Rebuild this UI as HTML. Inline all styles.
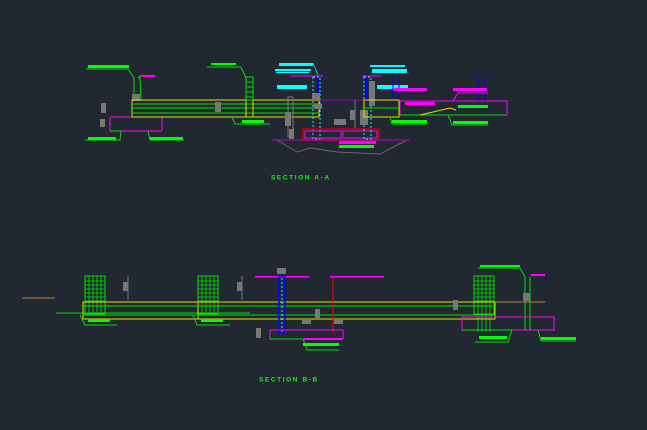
<!DOCTYPE html>
<html><head><meta charset="utf-8"><style>
html,body{margin:0;padding:0;background:#222831;}
svg{display:block}
text{font-family:"Liberation Sans",sans-serif;font-weight:bold;fill:#00ff00;font-size:6.5px;letter-spacing:1.6px}
</style></head><body>
<svg width="647" height="430" viewBox="0 0 647 430" xmlns="http://www.w3.org/2000/svg">
<rect width="647" height="430" fill="#222831"/>
<g fill="none" stroke-width="1">
<rect x="88" y="65" width="41" height="3" fill="#00ff00" stroke="none"/>
<polyline points="86,69 128,69 134,78 134,100" stroke="#00e000"/>
<polyline points="138,78 140,76 141,100" stroke="#00e000"/>
<rect x="141" y="75" width="14" height="2" fill="#ff00ff" stroke="none"/>
<rect x="132" y="94" width="8" height="7" fill="#777" stroke="none"/>
<rect x="101" y="103" width="5" height="10" fill="#777" stroke="none"/>
<rect x="100" y="119" width="5" height="8" fill="#777" stroke="none"/>
<rect x="110" y="117" width="52" height="14" stroke="#ff00ff" rx="2"/>
<polyline points="110,131 121,131 120,140 85,140" stroke="#00e000"/>
<rect x="88" y="137" width="28" height="3" fill="#00ff00" stroke="none"/>
<polyline points="148,131 150,140 184,140" stroke="#00e000"/>
<rect x="150" y="137" width="33" height="3" fill="#00ff00" stroke="none"/>
<rect x="132" y="100" width="187" height="17" stroke="#e0e000"/>
<line x1="132" y1="104" x2="319" y2="104" stroke="#00e000"/>
<line x1="132" y1="108" x2="319" y2="108" stroke="#00e000"/>
<line x1="132" y1="113" x2="319" y2="113" stroke="#00e000"/>
<rect x="246" y="100" width="7" height="17" stroke="#e0e000"/>
<rect x="211" y="63" width="25" height="2" fill="#00ff00" stroke="none"/>
<polyline points="207,67 241,67 246,78" stroke="#00e000"/>
<rect x="246" y="77" width="7" height="23" stroke="#00e000"/>
<line x1="246" y1="82" x2="253" y2="82" stroke="#00e000"/><line x1="246" y1="87" x2="253" y2="87" stroke="#00e000"/><line x1="246" y1="92" x2="253" y2="92" stroke="#00e000"/><line x1="246" y1="97" x2="253" y2="97" stroke="#00e000"/>
<rect x="215" y="102" width="6" height="10" fill="#777" stroke="none"/>
<polyline points="232,117 235,124 270,124" stroke="#00e000"/>
<rect x="242" y="120" width="22" height="3" fill="#00ff00" stroke="none"/>
<rect x="279" y="63" width="34" height="3" fill="#00ffff" stroke="none"/>
<rect x="275" y="69" width="36" height="2" fill="#00ffff" stroke="none"/>
<rect x="276" y="72" width="33" height="1" fill="#00ffff" stroke="none"/>
<rect x="277" y="85" width="30" height="4" fill="#00ffff" stroke="none"/>
<polyline points="313,63 318,75" stroke="#00cccc"/>
<line x1="290" y1="76" x2="323" y2="76" stroke="#ff00ff"/>
<rect x="313" y="77" width="7" height="62" stroke="#00ffff" stroke-dasharray="2,2"/>
<line x1="318" y1="78" x2="318" y2="100" stroke="#0000ff" stroke-width="2"/>
<rect x="312" y="93" width="8" height="7" fill="#777" stroke="none"/>
<rect x="314" y="104" width="8" height="5" fill="#777" stroke="none"/>
<line x1="320" y1="100" x2="364" y2="100" stroke="#a000c0"/>
<rect x="288" y="97" width="5" height="40" stroke="#777"/>
<rect x="285" y="112" width="6" height="14" fill="#777" stroke="none"/>
<rect x="289" y="129" width="5" height="10" fill="#777" stroke="none"/>
<rect x="334" y="119" width="12" height="6" fill="#777" stroke="none"/>
<rect x="350" y="110" width="5" height="10" fill="#777" stroke="none"/>
<line x1="355" y1="100" x2="355" y2="130" stroke="#777"/>
<rect x="303" y="129" width="76" height="11" stroke="#c00000" stroke-width="1.5"/>
<rect x="305" y="131" width="36" height="7" stroke="#ff00ff"/>
<rect x="343" y="131" width="34" height="7" stroke="#ff00ff"/>
<line x1="272" y1="140" x2="410" y2="140" stroke="#c000c0"/>
<polyline points="277,140 297,152 310,148 337,152 380,154 405,141" stroke="#666"/>
<rect x="339" y="141" width="37" height="3" fill="#ff00ff" stroke="none"/>
<rect x="339" y="145" width="35" height="3" fill="#00ff00" stroke="none"/>
<rect x="370" y="65" width="35" height="2" fill="#00ffff" stroke="none"/>
<rect x="372" y="69" width="35" height="4" fill="#00ffff" stroke="none"/>
<rect x="377" y="85" width="31" height="4" fill="#00ffff" stroke="none"/>
<line x1="362" y1="76" x2="381" y2="76" stroke="#ff00ff"/>
<rect x="364" y="77" width="7" height="62" stroke="#00ffff" stroke-dasharray="2,2"/>
<line x1="366" y1="78" x2="366" y2="100" stroke="#0000ff" stroke-width="2"/>
<rect x="369" y="81" width="6" height="25" fill="#777" stroke="none"/>
<rect x="360" y="110" width="8" height="15" fill="#777" stroke="none"/>
<line x1="393" y1="77" x2="393" y2="101" stroke="#0000ff"/>
<line x1="399" y1="77" x2="399" y2="101" stroke="#0000ff"/>
<rect x="393" y="88" width="34" height="3" fill="#ff00ff" stroke="none"/>
<rect x="364" y="100" width="35" height="17" stroke="#e0e000"/>
<line x1="364" y1="108" x2="399" y2="108" stroke="#00e000"/>
<polyline points="390,117 392,124 427,124" stroke="#00e000"/>
<rect x="392" y="120" width="35" height="3" fill="#00ff00" stroke="none"/>
<rect x="400" y="101" width="107" height="14" stroke="#ff00ff"/>
<rect x="405" y="102" width="30" height="3" fill="#ff00ff" stroke="none"/>
<polyline points="400,115 506,115" stroke="#00e000"/>
<polyline points="420,115 450,108 456,110" stroke="#e0e000"/>
<line x1="478" y1="77" x2="478" y2="101" stroke="#0000ff"/>
<line x1="485" y1="77" x2="485" y2="101" stroke="#0000ff"/>
<rect x="453" y="88" width="34" height="3" fill="#ff00ff" stroke="none"/>
<polyline points="453,101 458,93 488,93" stroke="#ff00ff"/>
<rect x="458" y="105" width="30" height="3" fill="#00ff00" stroke="none"/>
<polyline points="448,115 452,125 488,125" stroke="#00e000"/>
<rect x="453" y="121" width="35" height="3" fill="#00ff00" stroke="none"/>

<line x1="22" y1="298" x2="55" y2="298" stroke="#c08040"/>
<line x1="56" y1="313" x2="250" y2="313" stroke="#00e000"/>
<rect x="85" y="276" width="20" height="38" stroke="#00e000"/>
<rect x="198" y="276" width="20" height="38" stroke="#00e000"/>
<rect x="474" y="276" width="20" height="38" stroke="#00e000"/>
<g stroke="#00e000" stroke-width="0.8">
<path d="M85 281h20M85 285h20M85 289h20M85 293h20M85 297h20M85 301h20M89 276v38M93 276v38M97 276v38M101 276v38"/>
<path d="M198 281h20M198 285h20M198 289h20M198 293h20M198 297h20M198 301h20M202 276v38M206 276v38M210 276v38M214 276v38"/>
<path d="M474 281h20M474 285h20M474 289h20M474 293h20M474 297h20M474 301h20M478 276v56M482 276v56M486 276v56M490 276v56"/>
</g>
<rect x="83" y="302" width="412" height="17" stroke="#e0e000"/>
<line x1="198" y1="302" x2="198" y2="319" stroke="#e0e000"/>
<line x1="83" y1="306" x2="495" y2="306" stroke="#00e000"/>
<line x1="83" y1="315" x2="495" y2="315" stroke="#00e000"/>
<polyline points="80,315 85,325 117,325" stroke="#00e000"/>
<rect x="88" y="319" width="22" height="3" fill="#00ff00" stroke="none"/>
<polyline points="193,315 197,325 230,325" stroke="#00e000"/>
<rect x="201" y="319" width="22" height="3" fill="#00ff00" stroke="none"/>
<rect x="123" y="282" width="5" height="9" fill="#777" stroke="none"/>
<line x1="128" y1="276" x2="128" y2="300" stroke="#777"/>
<rect x="237" y="282" width="5" height="9" fill="#777" stroke="none"/>
<line x1="242" y1="276" x2="242" y2="300" stroke="#777"/>
<rect x="255" y="276" width="54" height="1.5" fill="#ff00ff" stroke="none"/>
<rect x="330" y="276" width="54" height="1.5" fill="#ff00ff" stroke="none"/>
<rect x="277" y="268" width="9" height="6" fill="#777" stroke="none"/>
<rect x="279" y="277" width="6" height="55" stroke="#0000ff" stroke-width="1.5"/>
<line x1="282" y1="278" x2="282" y2="332" stroke="#00ffff" stroke-dasharray="2,2"/>
<line x1="333" y1="277" x2="333" y2="333" stroke="#ff0000"/>
<rect x="270" y="330" width="73" height="9" stroke="#ff00ff"/>
<polyline points="270,339 303,339 307,350 339,350" stroke="#00e000"/>
<rect x="303" y="343" width="36" height="3" fill="#00ff00" stroke="none"/>
<rect x="304" y="338" width="38" height="2" fill="#ff00ff" stroke="none"/>
<rect x="302" y="319" width="9" height="5" fill="#777" stroke="none"/>
<rect x="334" y="319" width="9" height="5" fill="#777" stroke="none"/>
<rect x="315" y="309" width="5" height="9" fill="#777" stroke="none"/>
<rect x="256" y="328" width="5" height="10" fill="#777" stroke="none"/>
<rect x="453" y="300" width="5" height="10" fill="#777" stroke="none"/>
<line x1="495" y1="302" x2="545" y2="302" stroke="#c08040"/>
<rect x="480" y="265" width="40" height="2" fill="#00ff00" stroke="none"/>
<polyline points="478,268 520,268 525,277 525,330" stroke="#00e000"/>
<rect x="531" y="274" width="14" height="2" fill="#ff00ff" stroke="none"/>
<line x1="530" y1="277" x2="530" y2="330" stroke="#00e000"/>
<rect x="523" y="293" width="7" height="8" fill="#777" stroke="none"/>
<rect x="462" y="317" width="92" height="13" stroke="#ff00ff"/>
<polyline points="462,330 512,330 508,342 475,342" stroke="#00e000"/>
<rect x="479" y="336" width="28" height="3" fill="#00ff00" stroke="none"/>
<polyline points="538,330 541,341 576,341" stroke="#00e000"/>
<rect x="541" y="337" width="35" height="3" fill="#00ff00" stroke="none"/>
</g>
<text x="271" y="179.5">SECTION A-A</text>
<text x="259" y="381.5">SECTION B-B</text>
</svg>
</body></html>
